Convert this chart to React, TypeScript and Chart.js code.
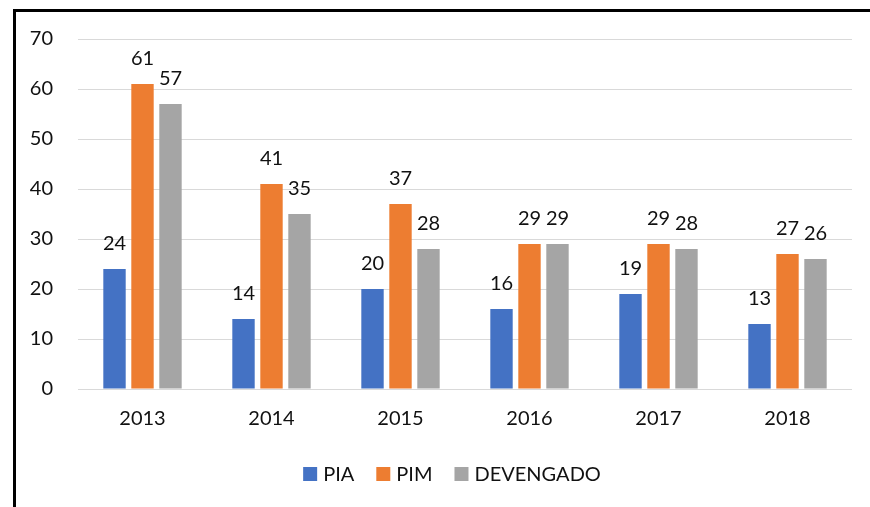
import React, { useEffect, useRef } from "react";
import { Chart, registerables } from "chart.js";

Chart.register(...registerables);

const categories = ["2013", "2014", "2015", "2016", "2017", "2018"];
const piaValues = [24, 14, 20, 16, 19, 13];
const pimValues = [61, 41, 37, 29, 29, 27];
const devengadoValues = [57, 35, 28, 29, 28, 26];
const seriesNames = ["PIA", "PIM", "DEVENGADO"];
const seriesColors = ["#4472C4", "#ED7D31", "#A5A5A5"];
const yTicks = [0, 10, 20, 30, 40, 50, 60, 70];

const FONT = "Lato, 'Open Sans', sans-serif";
const TEXT = "#111111";

const valueLabels = {
  id: "valueLabels",
  afterDatasetsDraw(chart: any) {
    const ctx = chart.ctx;
    ctx.save();
    ctx.font = `20px ${FONT}`;
    ctx.fillStyle = TEXT;
    ctx.textAlign = "center";
    ctx.textBaseline = "alphabetic";
    chart.data.datasets.forEach((ds: any, i: number) => {
      const meta = chart.getDatasetMeta(i);
      meta.data.forEach((el: any, j: number) => {
        ctx.fillText(String(ds.data[j]), el.x, el.y - 19);
      });
    });
    ctx.restore();
  },
};

const customLegend = {
  id: "customLegend",
  afterDraw(chart: any) {
    const ctx = chart.ctx;
    const area = chart.chartArea;
    ctx.save();
    ctx.font = `20px ${FONT}`;
    const box = 14;
    const boxGap = 6;
    const itemGap = 22;
    const widths = chart.data.datasets.map((ds: any) => box + boxGap + ctx.measureText(ds.label).width);
    const total = widths.reduce((a: number, b: number) => a + b, 0) + itemGap * (widths.length - 1);
    const center = (area.left + area.right) / 2 - 13;
    const y = chart.height - 33;
    let x = center - total / 2;
    chart.data.datasets.forEach((ds: any, i: number) => {
      ctx.fillStyle = ds.backgroundColor;
      ctx.fillRect(x, y - box / 2, box, box);
      ctx.fillStyle = TEXT;
      ctx.textAlign = "left";
      ctx.textBaseline = "middle";
      ctx.fillText(ds.label, x + box + boxGap, y + 1);
      x += widths[i] + itemGap;
    });
    ctx.restore();
  },
};

export default function App() {
  const ref = useRef<HTMLCanvasElement>(null);
  useEffect(() => {
    if (!ref.current) return;
    const chart = new Chart(ref.current, {
      type: "bar",
      data: {
        labels: categories,
        datasets: [
          { label: seriesNames[0], data: piaValues, backgroundColor: seriesColors[0] },
          { label: seriesNames[1], data: pimValues, backgroundColor: seriesColors[1] },
          { label: seriesNames[2], data: devengadoValues, backgroundColor: seriesColors[2] },
        ],
      },
      options: {
        animation: false,
        responsive: false,
        maintainAspectRatio: false,
        layout: { padding: { top: 39, right: 18, bottom: 55, left: 0 } },
        datasets: {
          bar: { categoryPercentage: 0.651, barPercentage: 0.8 },
        } as any,
        scales: {
          x: {
            grid: { display: false },
            border: { display: false },
            ticks: { color: TEXT, font: { family: FONT, size: 20 }, padding: 10 },
            afterFit: (s: any) => {
              s.height = 63;
            },
          },
          y: {
            min: 0,
            max: 70,
            afterBuildTicks: (s: any) => {
              s.ticks = yTicks.map((v) => ({ value: v }));
            },
            grid: { color: "#D9D9D9", lineWidth: 1, drawTicks: false },
            border: { display: false },
            ticks: { color: TEXT, font: { family: FONT, size: 20 }, padding: 25 },
            afterFit: (s: any) => {
              s.width = 78;
            },
          },
        },
        plugins: {
          legend: { display: false },
          tooltip: { enabled: false },
        },
      },
      plugins: [valueLabels, customLegend],
    });
    return () => chart.destroy();
  }, []);

  return (
    <div style={{ position: "fixed", left: 0, top: 0, width: 870, height: 507, background: "#fff", overflow: "hidden" }}>
      <div
        style={{
          position: "absolute",
          left: 13,
          top: 9,
          width: 870,
          height: 520,
          borderTop: "3px solid #000",
          borderLeft: "3px solid #000",
        }}
      />
      <canvas ref={ref} width={870} height={507} style={{ position: "absolute", left: 0, top: 0 }} />
    </div>
  );
}
